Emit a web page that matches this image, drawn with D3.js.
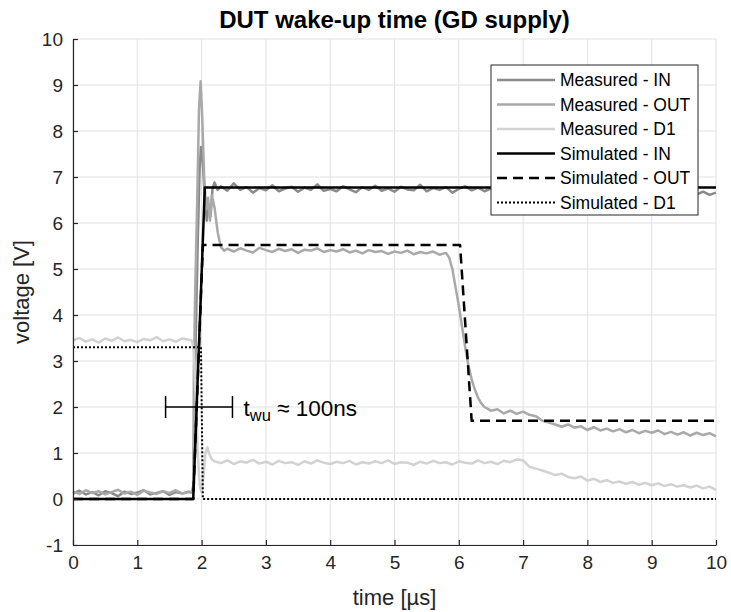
<!DOCTYPE html>
<html>
<head>
<meta charset="utf-8">
<script src="https://cdn.jsdelivr.net/npm/d3@7"></script>
<style>
    body { margin: 0; background: #fff; }
    svg { display: block; font-family: "Liberation Sans", Arial, sans-serif; }
</style>
</head>
<body>
<div id="chart"></div>
<script>
// time in µs, voltage in V
const measuredIn = [
    [0,0.12],[0.1,0.18],[0.2,0.10],[0.3,0.15],[0.4,0.08],[0.5,0.17],[0.6,0.13],[0.7,0.06],[0.8,0.16],[0.9,0.11],
    [1.0,0.14],[1.1,0.19],[1.2,0.10],[1.3,0.13],[1.4,0.17],[1.5,0.09],[1.6,0.15],[1.7,0.12],[1.8,0.16],[1.85,0.14],
    [1.87,0.25],[1.89,1.8],[1.91,3.6],[1.94,5.6],[1.97,7.2],[1.99,7.65],[2.02,7.3],[2.05,6.5],[2.08,6.05],[2.11,6.4],
    [2.14,6.15],[2.17,6.75],[2.2,6.88],[2.25,6.72],
    [2.3,6.80],[2.4,6.70],[2.5,6.86],[2.6,6.72],[2.7,6.78],[2.8,6.66],[2.9,6.76],[3.0,6.71],[3.1,6.82],[3.2,6.69],
    [3.3,6.75],[3.4,6.79],[3.5,6.68],[3.6,6.77],[3.7,6.72],[3.8,6.84],[3.9,6.70],[4.0,6.74],[4.1,6.69],[4.2,6.80],
    [4.3,6.73],[4.4,6.67],[4.5,6.78],[4.6,6.72],[4.7,6.81],[4.8,6.70],[4.9,6.75],[5.0,6.68],[5.1,6.79],[5.2,6.73],
    [5.3,6.71],[5.4,6.83],[5.5,6.69],[5.6,6.76],[5.7,6.72],[5.8,6.78],[5.9,6.66],[6.0,6.74],[6.1,6.80],[6.2,6.71],
    [6.3,6.77],[6.4,6.69],[6.5,6.75],[6.6,6.82],[6.7,6.70],[6.8,6.74],[6.9,6.68],[7.0,6.79],[7.1,6.72],[7.2,6.76],
    [7.3,6.69],[7.4,6.81],[7.5,6.73],[7.6,6.70],[7.7,6.77],[7.8,6.67],[7.9,6.75],[8.0,6.72],[8.1,6.80],[8.2,6.70],
    [8.3,6.74],[8.4,6.68],[8.5,6.78],[8.6,6.71],[8.7,6.75],[8.8,6.69],[8.9,6.79],[9.0,6.72],[9.1,6.70],[9.2,6.76],
    [9.3,6.66],[9.4,6.72],[9.5,6.64],[9.6,6.69],[9.7,6.62],[9.8,6.68],[9.9,6.61],[10,6.66]
];

const measuredOut = [
    [0,0.16],[0.1,0.11],[0.2,0.19],[0.3,0.13],[0.4,0.17],[0.5,0.10],[0.6,0.15],[0.7,0.20],[0.8,0.12],[0.9,0.16],
    [1.0,0.09],[1.1,0.18],[1.2,0.14],[1.3,0.11],[1.4,0.17],[1.5,0.13],[1.6,0.19],[1.7,0.12],[1.8,0.15],[1.85,0.14],
    [1.87,0.3],[1.88,2.8],[1.9,4.5],[1.93,6.4],[1.96,8.5],[1.985,9.08],[2.01,8.3],[2.04,7.0],[2.07,6.3],[2.1,6.55],
    [2.13,6.05],[2.16,6.6],[2.2,6.35],[2.25,5.8],[2.3,5.48],[2.35,5.40],
    [2.4,5.44],[2.5,5.38],[2.6,5.45],[2.7,5.40],[2.8,5.36],[2.9,5.46],[3.0,5.41],[3.1,5.37],[3.2,5.44],[3.3,5.39],
    [3.4,5.43],[3.5,5.35],[3.6,5.42],[3.7,5.40],[3.8,5.45],[3.9,5.37],[4.0,5.41],[4.1,5.38],[4.2,5.43],[4.3,5.36],
    [4.4,5.40],[4.5,5.34],[4.6,5.41],[4.7,5.37],[4.8,5.39],[4.9,5.33],[5.0,5.38],[5.1,5.35],[5.2,5.40],[5.3,5.32],
    [5.4,5.37],[5.5,5.34],[5.6,5.38],[5.7,5.31],[5.8,5.35],[5.85,5.25],[5.9,5.0],[5.95,4.6],[6.0,4.2],[6.05,3.75],
    [6.1,3.3],[6.15,2.9],[6.2,2.6],[6.25,2.38],[6.3,2.2],[6.35,2.08],[6.4,2.0],[6.5,1.92],[6.6,1.95],[6.7,1.86],
    [6.8,1.92],[6.9,1.85],[7.0,1.90],[7.1,1.83],[7.2,1.80],[7.3,1.70],[7.4,1.66],[7.5,1.62],[7.6,1.57],[7.7,1.62],
    [7.8,1.55],[7.9,1.58],[8.0,1.50],[8.1,1.56],[8.2,1.49],[8.3,1.53],[8.4,1.47],[8.5,1.52],[8.6,1.45],[8.7,1.50],
    [8.8,1.43],[8.9,1.48],[9.0,1.44],[9.1,1.49],[9.2,1.41],[9.3,1.46],[9.4,1.40],[9.5,1.45],[9.6,1.38],[9.7,1.44],
    [9.8,1.39],[9.9,1.43],[10,1.36]
];

const measuredD1 = [
    [0,3.45],[0.1,3.50],[0.2,3.42],[0.3,3.47],[0.4,3.40],[0.5,3.49],[0.6,3.44],[0.7,3.51],[0.8,3.43],[0.9,3.46],
    [1.0,3.41],[1.1,3.48],[1.2,3.45],[1.3,3.52],[1.4,3.43],[1.5,3.47],[1.6,3.42],[1.7,3.49],[1.8,3.46],[1.85,3.44],
    [1.88,3.2],[1.91,2.2],[1.94,1.0],[1.97,0.3],[2.0,0.15],[2.03,0.5],[2.06,1.0],[2.09,1.12],[2.12,0.98],[2.16,0.86],
    [2.2,0.82],[2.3,0.78],[2.4,0.84],[2.5,0.76],[2.6,0.82],[2.7,0.79],[2.8,0.85],[2.9,0.77],[3.0,0.81],[3.1,0.75],
    [3.2,0.83],[3.3,0.78],[3.4,0.80],[3.5,0.74],[3.6,0.82],[3.7,0.77],[3.8,0.84],[3.9,0.79],[4.0,0.76],[4.1,0.81],
    [4.2,0.78],[4.3,0.83],[4.4,0.75],[4.5,0.80],[4.6,0.77],[4.7,0.82],[4.8,0.78],[4.9,0.84],[5.0,0.76],[5.1,0.80],
    [5.2,0.79],[5.3,0.74],[5.4,0.81],[5.5,0.77],[5.6,0.83],[5.7,0.78],[5.8,0.80],[5.9,0.75],[6.0,0.82],[6.1,0.79],
    [6.2,0.77],[6.3,0.84],[6.4,0.78],[6.5,0.81],[6.6,0.76],[6.7,0.83],[6.8,0.80],[6.9,0.86],[7.0,0.84],[7.1,0.70],
    [7.2,0.66],[7.3,0.62],[7.4,0.57],[7.5,0.52],[7.6,0.55],[7.7,0.48],[7.8,0.45],[7.9,0.49],[8.0,0.40],[8.1,0.44],
    [8.2,0.37],[8.3,0.41],[8.4,0.35],[8.5,0.38],[8.6,0.33],[8.7,0.37],[8.8,0.31],[8.9,0.35],[9.0,0.30],[9.1,0.34],
    [9.2,0.28],[9.3,0.32],[9.4,0.27],[9.5,0.30],[9.6,0.25],[9.7,0.29],[9.8,0.23],[9.9,0.27],[10,0.20]
];

const simulatedIn = [[0,0],[1.87,0],[2.05,6.77],[10,6.77]];
const simulatedOut = [[0,0],[1.87,0],[2.02,5.52],[6.02,5.52],[6.2,1.7],[10,1.7]];
const simulatedD1 = [[0,3.3],[1.99,3.3],[2.02,0],[10,0]];

const seriesNames = ['Measured - IN', 'Measured - OUT', 'Measured - D1', 'Simulated - IN', 'Simulated - OUT', 'Simulated - D1'];
const xTicks = [0,1,2,3,4,5,6,7,8,9,10];
const yTicks = [-1,0,1,2,3,4,5,6,7,8,9,10];

// t_wu marker: span in µs, level in V
const twuSpan = [1.44, 2.48];
const twuLevel = 2.0;

const styles = [
    { color: '#8a8a8a', width: 2.5, dash: null },
    { color: '#a9a9a9', width: 2.5, dash: null },
    { color: '#d2d2d2', width: 2.5, dash: null },
    { color: '#000', width: 2.5, dash: null },
    { color: '#000', width: 2.5, dash: '10,6' },
    { color: '#000', width: 2, dash: '2,2' }
];
const allSeries = [measuredIn, measuredOut, measuredD1, simulatedIn, simulatedOut, simulatedD1];

function renderChart() {
    const W = 731, H = 612;
    const margin = {top: 39, right: 15, bottom: 67, left: 73};
    const width = W - margin.left - margin.right;
    const height = H - margin.top - margin.bottom;
    const axisColor = '#262626';

    const svg = d3.select('#chart')
        .append('svg')
        .attr('width', W)
        .attr('height', H);

    const g = svg.append('g')
        .attr('transform', `translate(${margin.left},${margin.top})`);

    const x = d3.scaleLinear().domain([0, 10]).range([0, width]);
    const y = d3.scaleLinear().domain([-1, 10]).range([height, 0]);

    // grid
    g.append('g').selectAll('line.vx')
        .data(xTicks)
        .enter().append('line')
        .attr('x1', d => x(d)).attr('x2', d => x(d))
        .attr('y1', 0).attr('y2', height)
        .attr('stroke', '#e1e1e1').attr('stroke-width', 1);
    g.append('g').selectAll('line.hy')
        .data(yTicks)
        .enter().append('line')
        .attr('x1', 0).attr('x2', width)
        .attr('y1', d => y(d)).attr('y2', d => y(d))
        .attr('stroke', '#e1e1e1').attr('stroke-width', 1);

    const line = d3.line().x(d => x(d[0])).y(d => y(d[1]));

    allSeries.forEach((data, i) => {
        g.append('path')
            .datum(data)
            .attr('fill', 'none')
            .attr('stroke', styles[i].color)
            .attr('stroke-width', styles[i].width)
            .attr('stroke-dasharray', styles[i].dash)
            .attr('stroke-linejoin', 'round')
            .attr('d', line);
    });

    // axes, ticks pointing inward
    const xAxis = g.append('g')
        .attr('transform', `translate(0,${height})`)
        .call(d3.axisBottom(x).tickValues(xTicks).tickFormat(d => String(d))
            .tickSize(-5).tickSizeOuter(0).tickPadding(11));
    const yAxis = g.append('g')
        .call(d3.axisLeft(y).tickValues(yTicks).tickFormat(d => String(d))
            .tickSize(-5).tickSizeOuter(0).tickPadding(10));

    [xAxis, yAxis].forEach(ax => {
        ax.select('.domain').attr('stroke', axisColor).attr('stroke-width', 1.2);
        ax.selectAll('.tick line').attr('stroke', axisColor).attr('stroke-width', 1.2);
        ax.selectAll('text')
            .attr('fill', axisColor)
            .style('font-family', '"Liberation Sans", Arial, sans-serif')
            .style('font-size', '19px');
    });

    // t_wu annotation
    const ann = g.append('g').attr('stroke', '#000').attr('stroke-width', 1.5);
    ann.append('line')
        .attr('x1', x(twuSpan[0])).attr('x2', x(twuSpan[1]))
        .attr('y1', y(twuLevel)).attr('y2', y(twuLevel));
    twuSpan.forEach(t => {
        ann.append('line')
            .attr('x1', x(t)).attr('x2', x(t))
            .attr('y1', y(twuLevel) - 11).attr('y2', y(twuLevel) + 11);
    });
    const annText = g.append('text')
        .attr('x', x(twuSpan[1]) + 11)
        .attr('y', y(twuLevel) + 9)
        .style('font-size', '22.5px')
        .attr('fill', '#000');
    annText.append('tspan').text('t');
    annText.append('tspan').attr('dy', 5).style('font-size', '16.5px').text('wu');
    annText.append('tspan').attr('dy', -5).text(' ≈ 100ns');

    // title and axis labels
    svg.append('text')
        .attr('x', margin.left + width / 2)
        .attr('y', 28)
        .attr('text-anchor', 'middle')
        .style('font-size', '24px')
        .style('font-weight', 'bold')
        .attr('fill', '#000')
        .text('DUT wake-up time (GD supply)');

    svg.append('text')
        .attr('x', margin.left + width / 2)
        .attr('y', 605)
        .attr('text-anchor', 'middle')
        .style('font-size', '22px')
        .attr('fill', axisColor)
        .text('time [µs]');

    svg.append('text')
        .attr('transform', `translate(29,${margin.top + height / 2}) rotate(-90)`)
        .attr('text-anchor', 'middle')
        .style('font-size', '22px')
        .attr('fill', axisColor)
        .text('voltage [V]');

    // legend
    const legend = svg.append('g').attr('transform', 'translate(491,65)');
    legend.append('rect')
        .attr('width', 207).attr('height', 150)
        .attr('fill', '#fff')
        .attr('stroke', '#262626').attr('stroke-width', 1);
    seriesNames.forEach((name, i) => {
        const cy = 15 + i * 24.5;
        legend.append('line')
            .attr('x1', 6).attr('x2', 64)
            .attr('y1', cy).attr('y2', cy)
            .attr('stroke', styles[i].color)
            .attr('stroke-width', styles[i].width)
            .attr('stroke-dasharray', styles[i].dash);
        legend.append('text')
            .attr('x', 69).attr('y', cy + 6)
            .style('font-size', '17.5px')
            .attr('fill', '#000')
            .text(name);
    });
}

document.addEventListener('DOMContentLoaded', renderChart);
</script>
</body>
</html>
